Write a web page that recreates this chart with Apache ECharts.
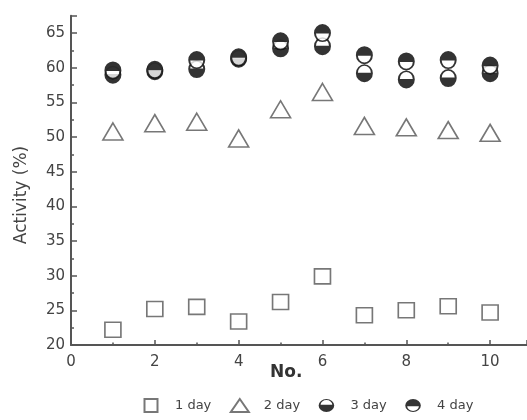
<!DOCTYPE html>
<html>
<head>
<meta charset="utf-8">
<script src="https://cdn.jsdelivr.net/npm/echarts@6/dist/echarts.min.js"></script>
<style>html,body{margin:0;padding:0;background:#fff}#c{width:527px;height:420px}</style>
</head>
<body>
<div id="c"></div>
<script>
var sampleNo = [1, 2, 3, 4, 5, 6, 7, 8, 9, 10];
var day1 = [22.2, 25.2, 25.5, 23.4, 26.2, 29.9, 24.3, 25.0, 25.6, 24.7];
var day2 = [50.8, 52.0, 52.2, 49.8, 54.0, 56.5, 51.6, 51.4, 51.0, 50.6];
var day3 = [59.0, 59.5, 59.8, 61.3, 62.8, 63.1, 59.2, 58.3, 58.5, 59.2];
var day4 = [59.6, 59.7, 61.1, 61.5, 63.8, 65.0, 61.8, 60.9, 61.1, 60.3];
var seriesNames = ['1 day', '2 day', '3 day', '4 day'];
var yTicks = [20, 25, 30, 35, 40, 45, 50, 55, 60, 65];
var xTicks = [0, 2, 4, 6, 8, 10];

function pairs(xs, ys) { return xs.map(function (x, i) { return [x, ys[i]]; }); }

// outer disc (clockwise) with a half-disc hole (counter-clockwise)
var disc = 'M0 10 A10 10 0 1 1 20 10 A10 10 0 1 1 0 10 Z ';
var sym3 = 'path://' + disc + 'M17.6 9.4 A7.6 7.6 0 0 0 2.4 9.4 Z';   // bottom filled
var sym4 = 'path://' + disc + 'M2.4 10.6 A7.6 7.6 0 0 0 17.6 10.6 Z'; // top filled
var discL = 'M0 10 A12 10 0 1 1 24 10 A12 10 0 1 1 0 10 Z ';
var leg3 = 'path://' + discL + 'M21 9 A9 7.4 0 0 0 3 9 Z';
var leg4 = 'path://' + discL + 'M3 11 A9 7.4 0 0 0 21 11 Z';
var legSquare = 'path://M0 0 L10 0 L10 10 L0 10 Z';
var legTri = 'path://M9 0 L18 13 L0 13 Z';

var font = 'DejaVu Sans';
var axisColor = '#555';

var chart = echarts.init(document.getElementById('c'), null, {renderer: 'canvas'});
chart.setOption({
  animation: false,
  backgroundColor: '#fff',
  grid: {left: 71, right: 0, top: 15.7, bottom: 75, containLabel: false},
  xAxis: {
    type: 'value', min: 0, max: 10.88, interval: 2,
    axisLine: {show: true, onZero: false, lineStyle: {color: axisColor, width: 2}},
    axisTick: {show: true, inside: true, length: 5, lineStyle: {color: axisColor, width: 1.5}},
    minorTick: {show: true, splitNumber: 2, length: 2.5, lineStyle: {color: axisColor, width: 1.5}},
    splitLine: {show: false},
    axisLabel: {showMaxLabel: false, color: '#444', fontFamily: font, fontSize: 15, margin: 10,
      formatter: function (v) { return xTicks.indexOf(v) >= 0 ? String(v) : ''; }}
  },
  yAxis: {
    type: 'value', min: 20, max: 67.5, interval: 5,
    axisLine: {show: true, onZero: false, lineStyle: {color: axisColor, width: 2}},
    axisTick: {show: true, inside: true, length: 6, lineStyle: {color: axisColor, width: 1.5}},
    minorTick: {show: true, splitNumber: 2, length: 3, lineStyle: {color: axisColor, width: 1.5}},
    splitLine: {show: false},
    axisLabel: {showMaxLabel: false, color: '#444', fontFamily: font, fontSize: 15, margin: 6,
      formatter: function (v) { return yTicks.indexOf(v) >= 0 ? String(v) : ''; }}
  },
  legend: {
    data: [
      {name: seriesNames[0], icon: legSquare},
      {name: seriesNames[1], icon: legTri},
      {name: seriesNames[2], icon: leg3},
      {name: seriesNames[3], icon: leg4}
    ],
    left: 138.5, top: 393, itemWidth: 18, itemHeight: 13, itemGap: 18.5, symbolKeepAspect: true,
    textStyle: {color: '#444', fontFamily: font, fontSize: 13, padding: [0, 0, 0, 10]}
  },
  graphic: [
    {type: 'text', left: 270, top: 364, style: {text: 'No.', font: 'bold 17px "DejaVu Sans"', fill: '#333'}},
    {type: 'text', x: 22, y: 195, rotation: Math.PI / 2, style: {text: 'Activity (%)', font: '17px "DejaVu Sans"', fill: '#444', align: 'center', verticalAlign: 'middle'}}
  ],
  series: [
    {name: '1 day', type: 'scatter', data: pairs(sampleNo, day1), symbol: 'rect', symbolSize: [16, 15],
      itemStyle: {color: '#fff', borderColor: '#555', borderWidth: 1.6}},
    {name: '2 day', type: 'scatter', data: pairs(sampleNo, day2), symbol: 'triangle', symbolSize: [20, 17],
      itemStyle: {color: '#fff', borderColor: '#555', borderWidth: 1.6}},
    {name: '3 day bg', type: 'scatter', data: pairs(sampleNo, day3), symbol: 'circle', symbolSize: [16, 17], silent: true,
      itemStyle: {color: '#fff'}},
    {name: '3 day', type: 'scatter', data: pairs(sampleNo, day3), symbol: sym3, symbolSize: [17, 18],
      itemStyle: {color: '#000'}},
    {name: '4 day bg', type: 'scatter', data: pairs(sampleNo, day4), symbol: 'circle', symbolSize: [16, 17], silent: true,
      itemStyle: {color: '#fff'}},
    {name: '4 day', type: 'scatter', data: pairs(sampleNo, day4), symbol: sym4, symbolSize: [17, 18],
      itemStyle: {color: '#000'}}
  ]
});
</script>
</body>
</html>
